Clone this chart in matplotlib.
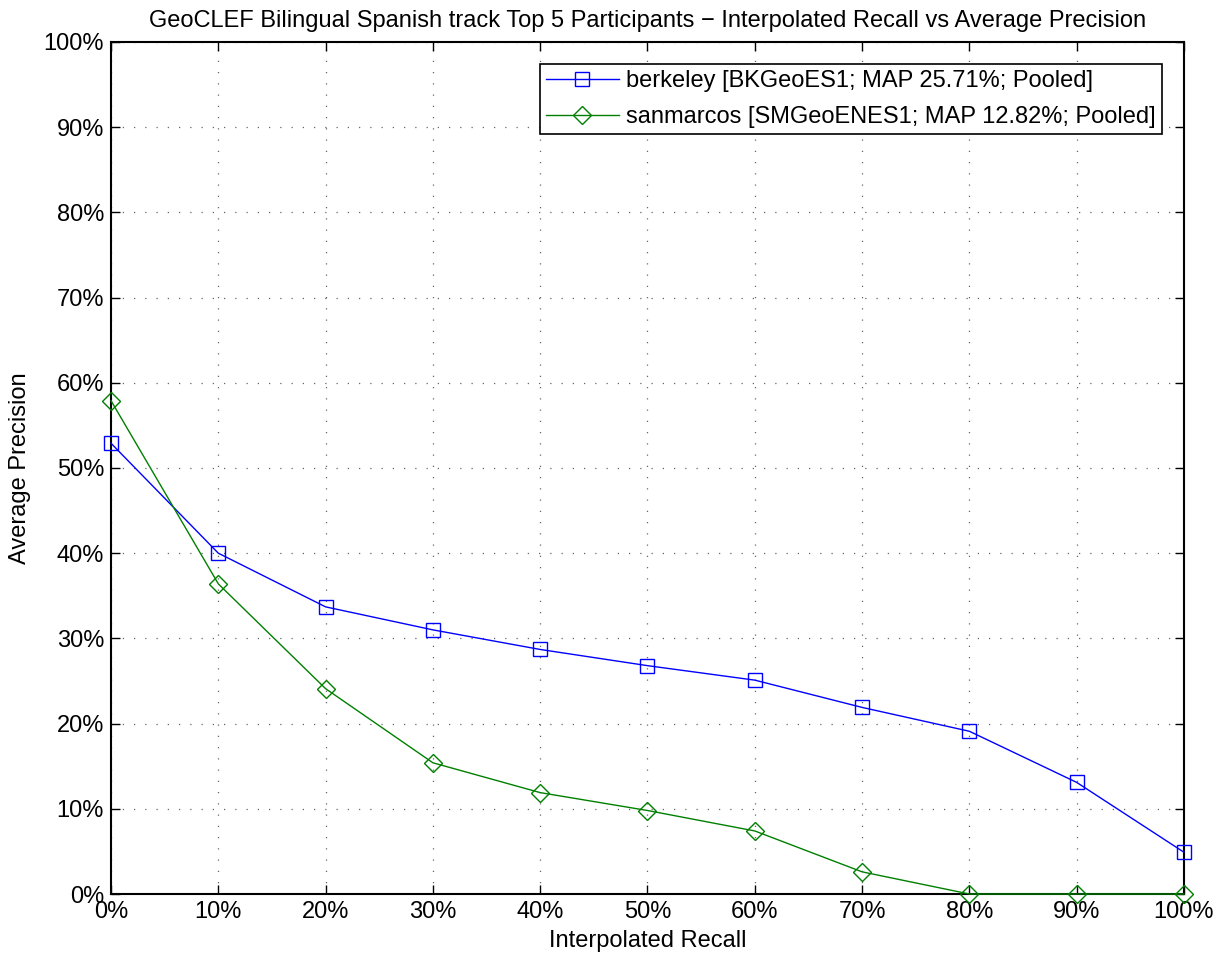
import matplotlib
matplotlib.use("Agg")
import matplotlib.pyplot as plt
from matplotlib.ticker import MultipleLocator, FuncFormatter

plt.rcParams["font.family"] = ["Liberation Sans", "DejaVu Sans"]

# recall levels (%) and interpolated precision (fraction)
recall = [0, 10, 20, 30, 40, 50, 60, 70, 80, 90, 100]
berkeley = [0.529, 0.400, 0.337, 0.310, 0.287, 0.268, 0.251, 0.219, 0.191, 0.131, 0.049]
sanmarcos = [0.579, 0.364, 0.241, 0.154, 0.119, 0.098, 0.074, 0.026, 0.0, 0.0, 0.0]

berkeley_label = "berkeley [BKGeoES1; MAP 25.71%; Pooled]"
sanmarcos_label = "sanmarcos [SMGeoENES1; MAP 12.82%; Pooled]"
title = "GeoCLEF Bilingual Spanish track Top 5 Participants \u2212 Interpolated Recall vs Average Precision"

FS = 17

fig = plt.figure(figsize=(12.24, 9.58), dpi=100)
ax = fig.add_axes([0.0907, 0.0668, 0.8766, 0.8894])

ax.plot(recall, berkeley, color="blue", lw=1, marker="s", ms=9.5, mfc="none",
        mec="blue", label=berkeley_label, clip_on=False, zorder=3)
ax.plot(recall, sanmarcos, color="green", lw=1, marker="D", ms=9.5, mfc="none",
        mec="green", label=sanmarcos_label, clip_on=False, zorder=3)

ax.set_xlim(0, 100)
ax.set_ylim(0, 1)
ax.xaxis.set_major_locator(MultipleLocator(10))
ax.yaxis.set_major_locator(MultipleLocator(0.1))
ax.xaxis.set_major_formatter(FuncFormatter(lambda v, p: f"{v:.0f}%"))
ax.yaxis.set_major_formatter(FuncFormatter(lambda v, p: f"{v*100:.0f}%"))
ax.tick_params(direction="in", top=True, right=True, length=6.5, width=1,
               labelsize=FS, pad=5)
ax.grid(True, linestyle=(0, (1, 8)), color="#666666", lw=0.9)
for s in ax.spines.values():
    s.set_linewidth(1.5)

ax.set_xlabel("Interpolated Recall", fontsize=FS, labelpad=5)
ax.set_ylabel("Average Precision", fontsize=FS, labelpad=9)
ax.set_title(title, fontsize=FS, pad=11)

leg = ax.legend(loc="upper right", fontsize=FS, fancybox=False,
                edgecolor="black", framealpha=1, borderaxespad=0.95,
                handlelength=3.1, handletextpad=0.3, labelspacing=0.6,
                borderpad=0.25)
leg.get_frame().set_linewidth(1.2)

fig.savefig("out.png", dpi=100)
